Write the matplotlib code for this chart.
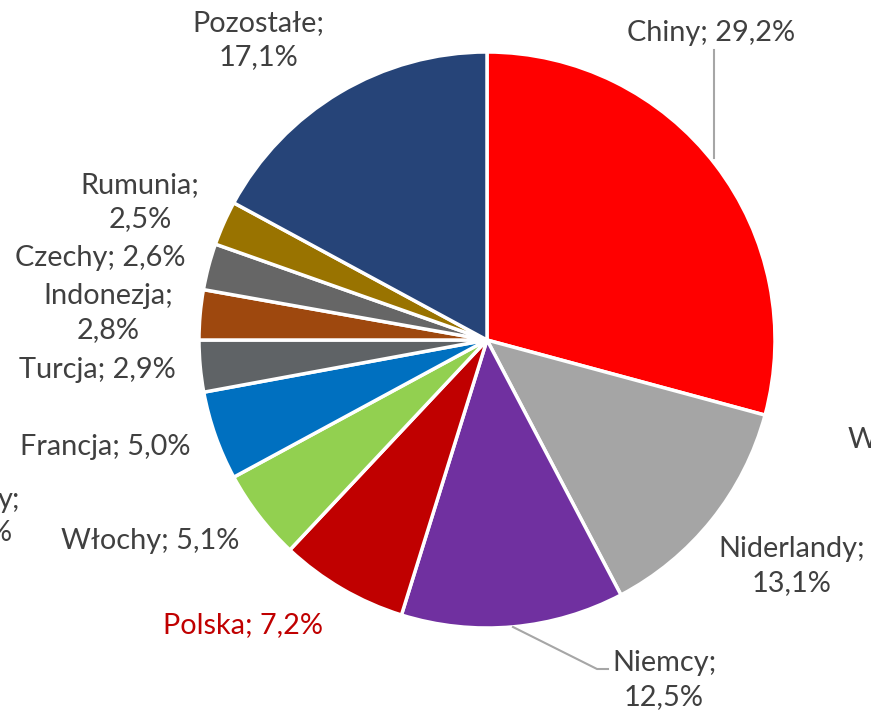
import matplotlib.pyplot as plt

# share of exports by country (%)
countries = ["Chiny", "Niderlandy", "Niemcy", "Polska", "Włochy", "Francja",
             "Turcja", "Indonezja", "Czechy", "Rumunia", "Pozostałe"]
shares = [29.2, 13.1, 12.5, 7.2, 5.1, 5.0, 2.9, 2.8, 2.6, 2.5, 17.1]
colors = ["#FF0000", "#A5A5A5", "#7030A0", "#C00000", "#92D050", "#0070C0",
          "#5F6366", "#9E480E", "#666666", "#997300", "#264478"]
label_text = ["Chiny; 29,2%", "Niderlandy;\n13,1%", "Niemcy;\n12,5%", "Polska; 7,2%",
              "Włochy; 5,1%", "Francja; 5,0%", "Turcja; 2,9%", "Indonezja;\n2,8%",
              "Czechy; 2,6%", "Rumunia;\n2,5%", "Pozostałe;\n17,1%"]

W, H = 871, 713
plt.rcParams['font.family'] = ['Lato', 'DejaVu Sans']

fig = plt.figure(figsize=(W / 100, H / 100), dpi=100)
ax = fig.add_axes([0, 0, 1, 1])

cx, cy, r = 487, H - 340, 288
ax.pie(shares, colors=colors, startangle=90, counterclock=False,
       center=(cx, cy), radius=r, frame=True,
       wedgeprops=dict(edgecolor='white', linewidth=2.5))
ax.set_xlim(0, W)
ax.set_ylim(0, H)
ax.set_aspect('equal')
ax.axis('off')

# label positions in pixels from the top-left corner
pos = {"Chiny": (711, 33), "Niderlandy": (792, 566), "Niemcy": (664, 680),
       "Polska": (243, 625), "Włochy": (150, 541), "Francja": (105, 447),
       "Turcja": (97, 370), "Indonezja": (108, 313), "Czechy": (100, 258),
       "Rumunia": (140, 202), "Pozostałe": (258, 40)}
txt_col = "#404040"
fs = 20.8
for name, lab in zip(countries, label_text):
    x, y = pos[name]
    ax.text(x, H - y, lab, ha='center', va='center', fontsize=fs,
            color="#C00000" if name == "Polska" else txt_col, linespacing=1.4)

# leader lines
line_col = "#A6A6A6"
ax.plot([714, 714], [H - 50, H - 158], color=line_col, lw=1.5)
ax.plot([513, 597, 608], [H - 627, H - 669, H - 669], color=line_col, lw=1.5)

# neighbouring labels running past the figure edge
ax.text(848, H - 440, "W", ha='left', va='center', fontsize=fs, color=txt_col)
ax.text(20, H - 500, "y;", ha='right', va='center', fontsize=fs, color=txt_col)
ax.text(12, H - 533, "%", ha='right', va='center', fontsize=fs, color=txt_col)

fig.savefig("out.png", dpi=100)
